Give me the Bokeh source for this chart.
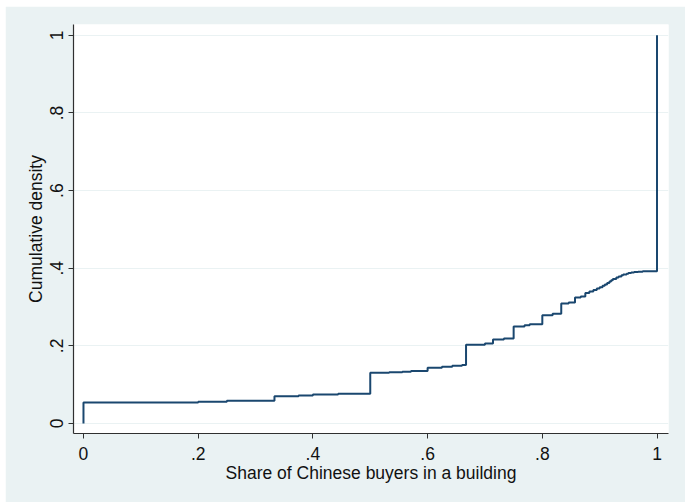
from bokeh.plotting import figure
from bokeh.models import FixedTicker, Range1d
from bokeh.embed import file_html
from bokeh.resources import INLINE

# Empirical CDF of the share of Chinese buyers per building
share = [0.0, 0.0, 0.2, 0.25, 0.333, 0.375, 0.4, 0.444, 0.5, 0.533, 0.556,
         0.571, 0.6, 0.625, 0.643, 0.66, 0.667, 0.7, 0.714, 0.733, 0.75,
         0.769, 0.778, 0.8, 0.818, 0.833, 0.846, 0.857, 0.867, 0.875, 0.882,
         0.889, 0.895, 0.9, 0.905, 0.909, 0.913, 0.917, 0.92, 0.923, 0.929,
         0.933, 0.938, 0.941, 0.947, 0.95, 0.955, 0.96, 0.967, 0.975, 0.98,
         1.0, 1.0]
cum_density = [0.0, 0.054, 0.056, 0.0585, 0.070, 0.072, 0.0745, 0.0765, 0.131,
               0.132, 0.133, 0.135, 0.1435, 0.146, 0.149, 0.151, 0.203, 0.206,
               0.2165, 0.219, 0.25, 0.253, 0.256, 0.279, 0.283, 0.309, 0.312,
               0.3245, 0.327, 0.336, 0.340, 0.344, 0.348, 0.351, 0.355, 0.358,
               0.362, 0.366, 0.369, 0.372, 0.376, 0.379, 0.382, 0.384, 0.386,
               0.388, 0.389, 0.390, 0.391, 0.392, 0.3923, 0.3925, 1.0]

x_ticks = [0, 0.2, 0.4, 0.6, 0.8, 1]
x_tick_labels = ["0", ".2", ".4", ".6", ".8", "1"]
y_ticks = [0, 0.2, 0.4, 0.6, 0.8, 1]
y_tick_labels = ["0", ".2", ".4", ".6", ".8", "1"]

BG = "#eaf2f3"
LINE = "#1a476f"
FONT = "Liberation Sans"

p = figure(width=680, height=496, output_backend="svg", toolbar_location=None,
           x_range=Range1d(-0.0174, 1.02), y_range=Range1d(-0.0258, 1.028),
           min_border_left=68, min_border_right=17, min_border_top=18,
           min_border_bottom=69, border_fill_color=BG,
           background_fill_color="white", outline_line_color=None)
p.margin = (6, 0, 0, 5)

p.step(share, cum_density, mode="after", line_color=LINE, line_width=2)

p.xgrid.visible = False
p.ygrid.ticker = FixedTicker(ticks=y_ticks)
p.ygrid.grid_line_color = BG
p.ygrid.grid_line_width = 1

p.xaxis.ticker = FixedTicker(ticks=x_ticks)
p.xaxis.major_label_overrides = {t: l for t, l in zip(x_ticks, x_tick_labels)}
p.yaxis.ticker = FixedTicker(ticks=y_ticks)
p.yaxis.major_label_overrides = {t: l for t, l in zip(y_ticks, y_tick_labels)}
p.yaxis.major_label_orientation = "vertical"

p.xaxis.axis_label = "Share of Chinese buyers in a building"
p.yaxis.axis_label = "Cumulative density"

for ax in (p.xaxis, p.yaxis):
    ax.axis_line_color = "#303030"
    ax.axis_line_width = 1.2
    ax.major_tick_line_color = "#303030"
    ax.major_tick_in = 0
    ax.major_tick_out = 5
    ax.minor_tick_line_color = None
    ax.major_label_text_font = FONT
    ax.major_label_text_font_size = "17.5px"
    ax.major_label_text_color = "#111111"
    ax.axis_label_text_font = FONT
    ax.axis_label_text_font_size = "17.5px"
    ax.axis_label_text_font_style = "normal"
    ax.axis_label_text_color = "#111111"

p.xaxis.major_label_standoff = 8
p.xaxis.axis_label_standoff = 0
p.yaxis.major_label_standoff = 5
p.yaxis.axis_label_standoff = 2

open("out.html", "w").write(file_html(p, INLINE))
